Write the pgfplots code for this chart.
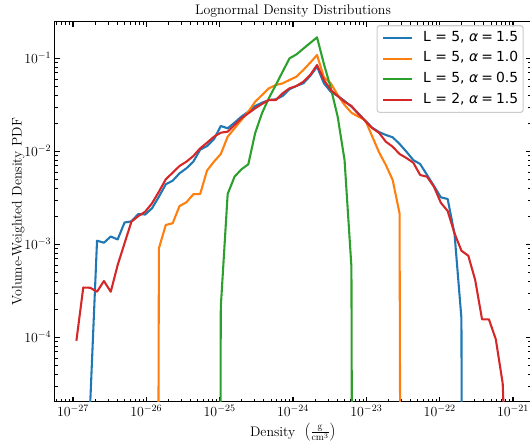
\RequirePackage{fix-cm}
\documentclass[border=0pt]{standalone}
\usepackage{fontspec}
\usepackage{pgfplots}
\usepackage{pgfplotstable}
\pgfplotsset{compat=1.18}
\newfontfamily\dejavu{DejaVu Sans}[ItalicFont={DejaVu Sans Oblique}]
\definecolor{tabblue}{HTML}{1F77B4}
\definecolor{taborange}{HTML}{FF7F0E}
\definecolor{tabgreen}{HTML}{2CA02C}
\definecolor{tabred}{HTML}{D62728}

\pgfplotstableread{
x y
1.715e-27 1.87e-5
2.129e-27 1.093e-3
2.642e-27 1.04e-3
3.278e-27 1.213e-3
4.068e-27 1.127e-3
5.049e-27 1.715e-3
6.265e-27 1.766e-3
7.775e-27 2.117e-3
9.647e-27 2.09e-3
1.197e-26 2.44e-3
1.486e-26 3.25e-3
1.844e-26 4.42e-3
2.288e-26 4.83e-3
2.839e-26 5.80e-3
3.523e-26 6.56e-3
4.372e-26 7.73e-3
5.426e-26 1.040e-2
6.734e-26 1.140e-2
8.356e-26 1.346e-2
1.037e-25 1.871e-2
1.286e-25 1.767e-2
1.596e-25 2.03e-2
1.981e-25 2.36e-2
2.459e-25 2.67e-2
3.051e-25 3.07e-2
3.786e-25 3.33e-2
4.699e-25 3.56e-2
5.831e-25 3.62e-2
7.236e-25 3.94e-2
8.980e-25 4.65e-2
1.114e-24 5.04e-2
1.382e-24 5.38e-2
1.715e-24 6.45e-2
2.129e-24 8.13e-2
2.642e-24 5.38e-2
3.278e-24 4.37e-2
4.068e-24 3.94e-2
5.049e-24 3.48e-2
6.265e-24 3.02e-2
7.775e-24 2.56e-2
9.647e-24 2.14e-2
1.197e-23 1.80e-2
1.486e-23 1.61e-2
1.844e-23 1.50e-2
2.288e-23 1.415e-2
2.839e-23 1.20e-2
3.523e-23 9.90e-3
4.372e-23 8.05e-3
5.426e-23 7.30e-3
6.734e-23 5.56e-3
8.356e-23 4.24e-3
1.037e-22 3.20e-3
1.286e-22 3.07e-3
1.596e-22 1.29e-3
1.981e-22 1.60e-4
2.459e-22 1e-30
}\blueA

\pgfplotstableread{
x y
1.197e-26 1e-30
1.486e-26 9.06e-4
1.844e-26 1.614e-3
2.288e-26 1.683e-3
2.839e-26 2.58e-3
3.523e-26 2.83e-3
4.372e-26 3.45e-3
5.426e-26 3.48e-3
6.734e-26 6.22e-3
8.356e-26 7.73e-3
1.037e-25 9.35e-3
1.286e-25 1.435e-2
1.596e-25 1.767e-2
1.981e-25 2.17e-2
2.459e-25 2.67e-2
3.051e-25 3.41e-2
3.786e-25 4.03e-2
4.699e-25 4.76e-2
5.831e-25 5.16e-2
7.236e-25 5.38e-2
8.980e-25 5.85e-2
1.114e-24 6.34e-2
1.382e-24 7.48e-2
1.715e-24 8.97e-2
2.129e-24 0.1084
2.642e-24 6.25e-2
3.278e-24 5.38e-2
4.068e-24 4.03e-2
5.049e-24 3.15e-2
6.265e-24 2.60e-2
7.775e-24 2.36e-2
9.647e-24 2.17e-2
1.197e-23 1.46e-2
1.486e-23 9.82e-3
1.844e-23 7.13e-3
2.288e-23 4.91e-3
2.839e-23 2.15e-3
3.523e-23 1e-30
}\orangeB

\pgfplotstableread{
x y
8.356e-26 1e-30
1.037e-25 2.13e-4
1.286e-25 3.47e-3
1.596e-25 5.33e-3
1.981e-25 6.40e-3
2.459e-25 7.24e-3
3.051e-25 1.57e-2
3.786e-25 2.58e-2
4.699e-25 3.74e-2
5.831e-25 5.16e-2
7.236e-25 7.20e-2
8.980e-25 0.100
1.114e-24 0.110
1.382e-24 0.127
1.715e-24 0.146
2.129e-24 0.168
2.642e-24 8.68e-2
3.278e-24 4.80e-2
4.068e-24 2.36e-2
5.049e-24 8.05e-3
6.265e-24 5.74e-4
7.775e-24 1e-30
}\greenC

\pgfplotstableread{
x y
1.114e-27 9.18e-5
1.382e-27 3.43e-4
1.715e-27 3.41e-4
2.129e-27 3.09e-4
2.642e-27 4.03e-4
3.278e-27 3.09e-4
4.068e-27 5.98e-4
5.049e-27 1.025e-3
6.265e-27 1.75e-3
7.775e-27 2.01e-3
9.647e-27 2.24e-3
1.197e-26 2.76e-3
1.486e-26 3.68e-3
1.844e-26 5.00e-3
2.288e-26 5.89e-3
2.839e-26 6.95e-3
3.523e-26 7.73e-3
4.372e-26 8.89e-3
5.426e-26 1.076e-2
6.734e-26 1.236e-2
8.356e-26 1.435e-2
1.037e-25 1.585e-2
1.286e-25 1.625e-2
1.596e-25 1.918e-2
1.981e-25 2.26e-2
2.459e-25 2.56e-2
3.051e-25 2.90e-2
3.786e-25 3.23e-2
4.699e-25 3.56e-2
5.831e-25 3.56e-2
7.236e-25 4.21e-2
8.980e-25 4.76e-2
1.114e-24 5.04e-2
1.382e-24 5.60e-2
1.715e-24 6.61e-2
2.129e-24 8.47e-2
2.642e-24 5.85e-2
3.278e-24 4.56e-2
4.068e-24 3.94e-2
5.049e-24 3.41e-2
6.265e-24 3.07e-2
7.775e-24 2.52e-2
9.647e-24 2.12e-2
1.197e-23 1.78e-2
1.486e-23 1.585e-2
1.844e-23 1.27e-2
2.288e-23 1.12e-2
2.839e-23 9.35e-3
3.523e-23 8.47e-3
4.372e-23 7.54e-3
5.426e-23 5.56e-3
6.734e-23 5.33e-3
8.356e-23 4.16e-3
1.037e-22 2.80e-3
1.286e-22 2.28e-3
1.596e-22 1.31e-3
1.981e-22 8.53e-4
2.459e-22 7.54e-4
3.051e-22 4.13e-4
3.786e-22 1.56e-4
4.699e-22 1.56e-4
5.831e-22 9.51e-5
7.236e-22 3.20e-5
8.980e-22 3e-7
}\redD

\begin{document}
\begin{tikzpicture}
\begin{axis}[
  at={(0,0)}, anchor=south west,
  scale only axis,
  width=476.4pt, height=380pt,
  xmode=log, ymode=log,
  xmin=5.649e-28, xmax=1.770e-21,
  ymin=2.030e-5, ymax=0.2474,
  axis line style={line width=1.1pt},
  every tick/.style={black, line width=1.1pt},
  every minor tick/.style={black, line width=0.8pt},
  major tick length=4.9pt,
  minor tick length=2.8pt,
  tick align=inside,
  ticklabel style={font=\fontsize{13.9}{16}\selectfont},
  label style={font=\fontsize{13.9}{16}\selectfont},
  every axis title shift=0pt,
  title style={at={(0.5,1.0195)}, anchor=base, font=\fontsize{13.9}{16}\selectfont},
  title={Lognormal Density Distributions},
  xlabel={Density\ \ $\left(\frac{\mathrm{g}}{\mathrm{cm}^3}\right)$},
  ylabel={Volume-Weighted Density PDF},
  xlabel style={at={(0.5,-0.0903)}, anchor=base},
  ylabel style={at={(-0.0695,0.5)}, anchor=base},
  every axis plot/.append style={line width=2.08pt, line join=round, mark=none},
  legend image code/.code={\draw[#1] (0pt,0pt) -- (29pt,0pt);},
  legend style={at={(1,1)}, anchor=north east, xshift=-7.5pt, yshift=-3.5pt,
    draw=black!20, line width=1.1pt, rounded corners=2.5pt, fill=white, fill opacity=0.8, text opacity=1, draw opacity=1,
    font=\dejavu\fontsize{13.9}{16}\selectfont,
    inner xsep=5pt, inner ysep=6pt, row sep=8.2pt,
    nodes={inner sep=0pt, text height=9.5pt, text depth=3pt},
    cells={anchor=west},
    /tikz/every odd column/.append style={column sep=10pt}},
]
\addplot[tabblue] table[x=x,y=y] {\blueA};
\addlegendentry{L = 5, {\itshape α}\hspace{0.22em}=\hspace{0.22em}1.5}
\addplot[taborange] table[x=x,y=y] {\orangeB};
\addlegendentry{L = 5, {\itshape α}\hspace{0.22em}=\hspace{0.22em}1.0}
\addplot[tabgreen] table[x=x,y=y] {\greenC};
\addlegendentry{L = 5, {\itshape α}\hspace{0.22em}=\hspace{0.22em}0.5}
\addplot[tabred] table[x=x,y=y] {\redD};
\addlegendentry{L = 2, {\itshape α}\hspace{0.22em}=\hspace{0.22em}1.5}
\end{axis}
\pgfresetboundingbox
\useasboundingbox (-54.8pt,-40.3pt) rectangle (475.2pt,401.7pt);
\end{tikzpicture}
\end{document}
